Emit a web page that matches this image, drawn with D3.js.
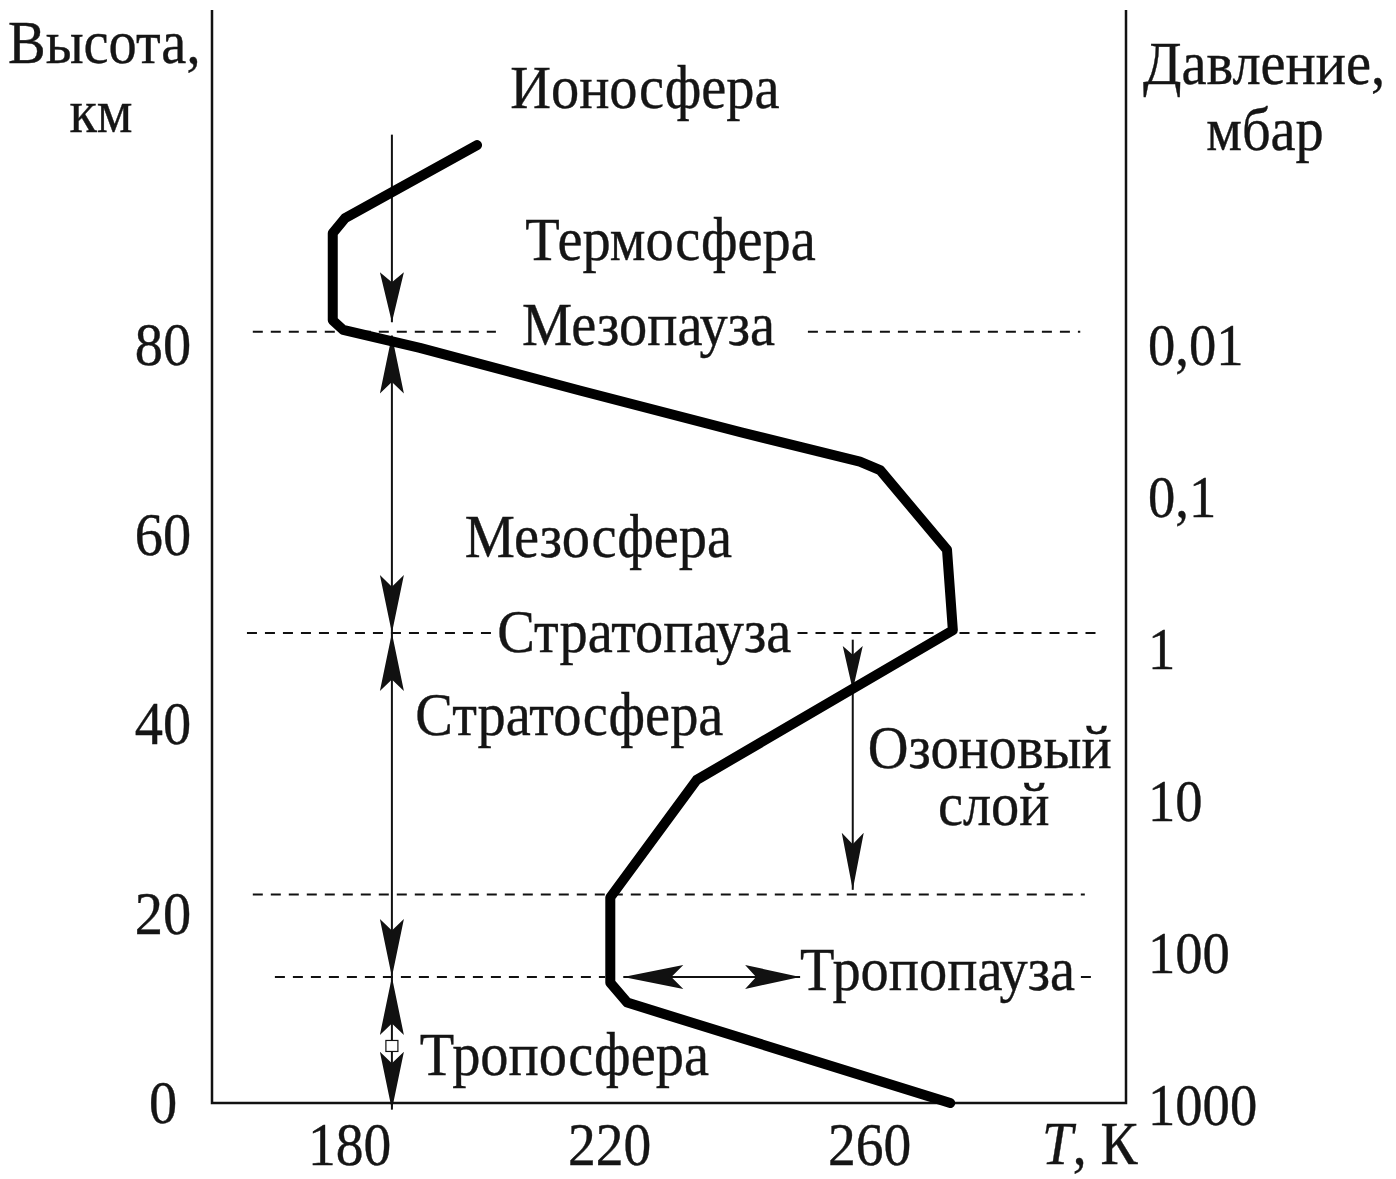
<!DOCTYPE html>
<html>
<head>
<meta charset="utf-8">
<script src="https://cdn.jsdelivr.net/npm/d3@7"></script>
<style>
  body { margin: 0; background: #fff; }
  svg text { font-family: 'Liberation Serif', 'Times New Roman', serif; fill: #151515; stroke: #151515; stroke-width: 0.4px; }
</style>
</head>
<body>
<div id="viz"></div>
<script>
// temperature profile: T (K) against height (km)
const profileT = [272.5, 222.8, 220.2, 220.2, 233.5, 272.9, 272.0, 261.7, 258.6, 240.2, 215.5, 190.9, 179.1, 177.5, 177.5, 179.4, 199.7];
const profileH = [0, 10.6, 12.7, 21.7, 34.1, 49.9, 58.4, 66.8, 67.7, 70.8, 75.2, 79.7, 81.6, 82.6, 91.8, 93.4, 101.1];

const heightTicks = [0, 20, 40, 60, 80];
const tempTicks = [180, 220, 260];
const pressureTicks = [1000, 100, 10, 1, 0.1, 0.01];

// dashed boundary levels (km) and the T ranges of their dash pieces
const levelHeights = [81.4, 49.6, 22.0, 13.3];
const levelPieces = [
  [[165.2, 202.6], [250.6, 292.5]],
  [[164.3, 202.4], [249.0, 295.5]],
  [[165.2, 293.2]],
  [[168.6, 219.4], [292.6, 295.3]]
];

// layer names, placed at (T, h) of their left baseline point
const layerNames = ['Ионосфера', 'Термосфера', 'Мезопауза', 'Мезосфера', 'Стратопауза', 'Стратосфера', 'Озоновый', 'слой', 'Тропопауза', 'Тропосфера'];
const layerT = [204.8, 207.1, 206.6, 197.8, 202.8, 190.2, 259.8, 270.6, 249.4, 190.9];
const layerH = [105.0, 89.0, 80.0, 57.6, 47.6, 38.8, 35.4, 29.3, 11.9, 3.0];

// vertical layer arrows along one temperature
const spanT = 186.6;
const spanFrom = [102.2, 81.0, 49.6, 13.3];
const spanTo = [82.4, 49.6, 13.3, -0.7];
const spanHeads = ['end', 'both', 'both', 'both'];

// ozone layer arrow and tropopause arrow
const ozoneT = 257.5, ozoneTop = 48.9, ozoneHead = 43.6, ozoneBottom = 22.5;
const tropoH = 13.3, tropoFrom = 222.2, tropoTo = 249.4;

const width = 1396, height = 1179;
const frame = {left: 212, right: 1126, top: 10};
const squeeze = 0.91;   // the source lettering is narrowed

const svg = d3.select('#viz').append('svg')
  .attr('width', width)
  .attr('height', height);

const x = d3.scaleLinear().domain([180, 260]).range([349, 869]);
const y = d3.scaleLinear().domain([0, 80]).range([1103, 345]);
const p = d3.scaleLog().domain([1000, 0.01]).range([1105, 345]);

// frame: left, right and bottom lines
const bottom = y(0);
svg.append('path')
  .attr('d', `M${frame.left},${frame.top}V${bottom}H${frame.right}V${frame.top}`)
  .style('fill', 'none')
  .style('stroke', '#111')
  .style('stroke-width', 2.5);

// axes (labels only)
const styleAxis = (g, dx, anchor, size) => {
  g.select('.domain').remove();
  g.attr('font-family', null).attr('font-size', size).attr('text-anchor', anchor);
  g.selectAll('text')
    .attr('x', null)
    .attr('transform', `translate(${dx},0) scale(${squeeze},1)`);
};

svg.append('g')
  .attr('transform', `translate(0,${bottom})`)
  .call(d3.axisBottom(x).tickValues(tempTicks).tickSize(0).tickPadding(19))
  .call(g => styleAxis(g, 0, 'middle', 61));

svg.append('g')
  .attr('transform', `translate(${frame.left},0)`)
  .call(d3.axisLeft(y).tickValues(heightTicks).tickSize(0))
  .call(g => styleAxis(g, -49, 'middle', 62));

svg.append('g')
  .attr('transform', `translate(${frame.right},0)`)
  .call(d3.axisRight(p).tickValues(pressureTicks).tickSize(0)
    .tickFormat(d => String(d).replace('.', ',')))
  .call(g => styleAxis(g, 22, 'start', 60));

// axis titles
const title = (txt, px, py, anchor) => svg.append('text')
  .attr('transform', `translate(${px},${py}) scale(${squeeze},1)`)
  .attr('text-anchor', anchor)
  .style('font-size', '62px')
  .text(txt);

title('Высота,', 8, 63, 'start');
title('км', 101, 132, 'middle');
title('Давление,', 1143, 84, 'start');
title('мбар', 1265, 150, 'middle');

const tk = svg.append('text')
  .attr('transform', `translate(1042,1164) scale(${squeeze},1)`)
  .style('font-size', '61px');
tk.append('tspan').style('font-style', 'italic').text('T');
tk.append('tspan').text(', К');

// dashed levels
levelHeights.forEach((h, i) => {
  levelPieces[i].forEach(piece => {
    svg.append('line')
      .attr('x1', x(piece[0]))
      .attr('x2', x(piece[1]))
      .attr('y1', y(h))
      .attr('y2', y(h))
      .style('stroke', '#111')
      .style('stroke-width', 2)
      .style('stroke-dasharray', '10,8');
  });
});

// arrow helpers
const head = (tipX, tipY, dx, dy, len, half) => {
  // dx, dy: unit direction the arrow points to
  const bx = tipX - dx * len, by = tipY - dy * len;
  const nx = tipX - dx * len * 0.8, ny = tipY - dy * len * 0.8;
  svg.append('path')
    .attr('d', `M${tipX},${tipY}L${bx - dy * half},${by + dx * half}L${nx},${ny}L${bx + dy * half},${by - dx * half}Z`)
    .style('fill', '#111');
};

const thin = (x1, y1, x2, y2) => svg.append('line')
  .attr('x1', x1).attr('y1', y1).attr('x2', x2).attr('y2', y2)
  .style('stroke', '#111')
  .style('stroke-width', 2);

// layer arrows
const sx = x(spanT);
spanFrom.forEach((h0, i) => {
  const y0 = y(h0), y1 = y(spanTo[i]);
  thin(sx, y0, sx, y1);
  if (spanHeads[i] === 'both') {
    head(sx, y0, 0, -1, 58, 12);
    head(sx, y1, 0, 1, 58, 12);
  } else {
    head(sx, y1, 0, 1, 50, 12);
  }
});

// small white gap between the troposphere heads
svg.append('rect')
  .attr('x', sx - 6)
  .attr('y', y(6.6))
  .attr('width', 12)
  .attr('height', 11)
  .style('fill', '#fff')
  .style('stroke', '#111')
  .style('stroke-width', 1.2);

// ozone arrow
const ox = x(ozoneT);
thin(ox, y(ozoneTop), ox, y(ozoneBottom));
head(ox, y(ozoneHead), 0, 1, 44, 10);
head(ox, y(ozoneBottom), 0, 1, 57, 11);

// tropopause arrow
const ty = y(tropoH);
thin(x(tropoFrom), ty, x(tropoTo), ty);
head(x(tropoFrom), ty, -1, 0, 60, 12);
head(x(tropoTo), ty, 1, 0, 55, 12);

// temperature curve
const line = d3.line()
  .x(i => x(profileT[i]))
  .y(i => y(profileH[i]));

svg.append('path')
  .attr('d', line(d3.range(profileT.length)))
  .style('fill', 'none')
  .style('stroke', '#000')
  .style('stroke-width', 10)
  .style('stroke-linejoin', 'round')
  .style('stroke-linecap', 'round');

// layer names
layerNames.forEach((name, i) => {
  svg.append('text')
    .attr('transform', `translate(${x(layerT[i])},${y(layerH[i])}) scale(${squeeze},1)`)
    .style('font-size', '62px')
    .text(name);
});
</script>
</body>
</html>
